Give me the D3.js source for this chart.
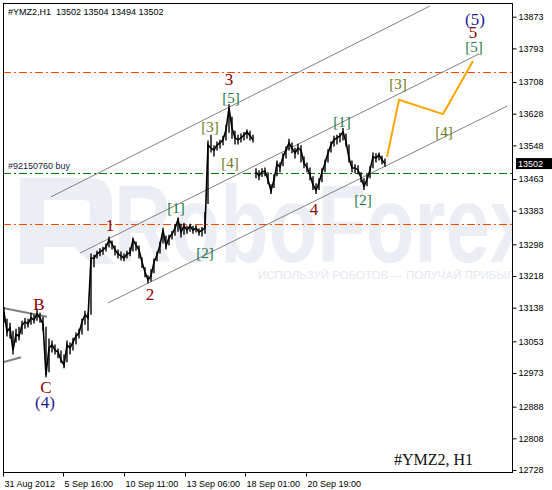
<!DOCTYPE html>
<html>
<head>
<meta charset="utf-8">
<script src="https://cdn.jsdelivr.net/npm/d3@7"></script>
<style>
  body { margin: 0; background: #fff; }
  svg { display: block; }
</style>
</head>
<body>
<svg id="chart" width="552" height="490"></svg>
<script>
// price per 3 hourly bars (bar = 1 + 3*i): close, high, low
const closes = [
  13127, 13077, 13087, 13031, 13071, 13066, 13094, 13102, 13097, 13112,
  13107, 13122, 13112, 13097, 12968, 13036, 13044, 13031, 13026, 13006,
  12993, 13044, 13036, 13051, 13066, 13074, 13102, 13120, 13112, 13263,
  13263, 13274, 13279, 13284, 13291, 13309, 13299, 13284, 13274, 13269,
  13263, 13274, 13276, 13309, 13296, 13284, 13253, 13228, 13208, 13218,
  13253, 13271, 13296, 13334, 13294, 13314, 13324, 13339, 13360, 13329,
  13344, 13334, 13344, 13334, 13339, 13329, 13334, 13339, 13549, 13541,
  13536, 13549, 13554, 13562, 13587, 13642, 13592, 13567, 13562, 13567,
  13574, 13582, 13572, 13562, 13481, 13471, 13481, 13483, 13461, 13433,
  13461, 13501, 13493, 13519, 13536, 13554, 13541, 13529, 13541, 13536,
  13503, 13493, 13473, 13448, 13435, 13453, 13481, 13503, 13529, 13549,
  13562, 13567, 13572, 13582, 13557, 13516, 13491, 13491, 13486, 13466,
  13445, 13461, 13486, 13519, 13516, 13524, 13511, 13502
];
const highs = [
  13140, 13110, 13100, 13080, 13085, 13090, 13105, 13112, 13110, 13125,
  13120, 13135, 13125, 13115, 13090, 13060, 13055, 13045, 13035, 13030,
  13020, 13055, 13050, 13062, 13075, 13085, 13110, 13130, 13125, 13275,
  13272, 13282, 13288, 13292, 13300, 13318, 13308, 13295, 13285, 13280,
  13275, 13282, 13290, 13315, 13305, 13295, 13265, 13240, 13220, 13235,
  13262, 13280, 13305, 13340, 13320, 13322, 13332, 13348, 13365, 13350,
  13352, 13345, 13350, 13345, 13346, 13338, 13342, 13380, 13560, 13575,
  13548, 13558, 13562, 13572, 13600, 13652, 13620, 13585, 13575, 13578,
  13582, 13588, 13585, 13575, 13490, 13485, 13490, 13492, 13480, 13450,
  13475, 13510, 13505, 13528, 13545, 13565, 13555, 13542, 13552, 13548,
  13520, 13505, 13492, 13470, 13452, 13465, 13490, 13512, 13538, 13558,
  13572, 13575, 13580, 13592, 13578, 13550, 13510, 13500, 13498, 13480,
  13465, 13475, 13495, 13530, 13528, 13530, 13522, 13515
];
const lows = [
  13100, 13065, 13060, 13020, 13050, 13055, 13070, 13085, 13088, 13095,
  13098, 13105, 13100, 13080, 12962, 12975, 13025, 13020, 13010, 12998,
  12985, 13000, 13020, 13030, 13045, 13060, 13070, 13095, 13080, 13120,
  13240, 13262, 13268, 13272, 13280, 13290, 13285, 13270, 13262, 13258,
  13255, 13262, 13268, 13280, 13282, 13262, 13238, 13215, 13200, 13205,
  13225, 13255, 13275, 13300, 13285, 13295, 13310, 13320, 13330, 13315,
  13322, 13325, 13330, 13325, 13328, 13320, 13318, 13325, 13400, 13530,
  13520, 13535, 13540, 13548, 13560, 13580, 13565, 13550, 13550, 13555,
  13560, 13565, 13560, 13555, 13465, 13460, 13468, 13470, 13450, 13425,
  13440, 13470, 13480, 13495, 13515, 13535, 13528, 13515, 13525, 13505,
  13490, 13480, 13460, 13435, 13425, 13435, 13455, 13480, 13505, 13530,
  13545, 13550, 13555, 13560, 13545, 13505, 13480, 13478, 13475, 13455,
  13435, 13445, 13465, 13490, 13505, 13510, 13500, 13494
];
// index of the group that opens after the weekend gap
const sessionBreaks = [84];
const priceTicks = [13873, 13793, 13708, 13628, 13548, 13463, 13383, 13298,
  13218, 13138, 13053, 12973, 12888, 12808, 12728];
const timeTicks = [0, 60, 121, 182, 242, 303];
const timeLabels = ["31 Aug 2012", "5 Sep 16:00", "10 Sep 11:00", "13 Sep 06:00",
  "18 Sep 01:00", "20 Sep 19:00"];
const lastPrice = 13502;
const levels = [
  { price: 13733, color: "#ff4500" },
  { price: 13477, color: "#008000", label: "#92150760 buy" },
  { price: 13349, color: "#ff4500" }
];
// channel lines as [bar, price] pairs
const channels = [
  [[48, 13418], [427, 13900]],
  [[77, 13276], [476, 13779]],
  [[105, 13150], [504, 13647]]
];
const triangle = [
  [[0, 13137], [44, 13115]],
  [[0, 13000], [18, 13013]]
];
const forecast = [[384, 13519], [396, 13663], [440, 13627], [470, 13761]];
// wave labels: text, bar, price, kind
const waves = [
  ["B", 36, 13133, "red"], ["C", 43, 12923, "red"], ["(4)", 42, 12885, "navy"],
  ["1", 107, 13332, "red"], ["2", 147, 13157, "red"],
  ["[1]", 173, 13377, "green"], ["[2]", 202, 13263, "green"],
  ["[3]", 207, 13582, "olive"], ["[4]", 227, 13491, "olive"], ["[5]", 228, 13655, "green"],
  ["3", 226, 13700, "red"], ["4", 311, 13372, "red"],
  ["[1]", 339, 13594, "green"], ["[2]", 360, 13397, "green"],
  ["[3]", 395, 13690, "olive"], ["[4]", 441, 13569, "olive"],
  ["[5]", 471, 13784, "green"], ["5", 470, 13819, "red"], ["(5)", 472, 13852, "navy"]
];
const waveColors = { red: "#8b0000", navy: "#1c1c8c", green: "#1f7a4a", olive: "#6f7a10" };

const svg = d3.select("#chart");
const pLeft = 3, pRight = 512, pTop = 3, pBottom = 472;

const x = d3.scaleLinear().domain([0, 509]).range([pLeft, pRight]);
const y = d3.scaleLinear().domain([12728, 13873]).range([470, 16.7]);

svg.append("clipPath").attr("id", "plotClip")
  .append("rect").attr("x", pLeft).attr("y", pTop).attr("width", pRight - pLeft).attr("height", pBottom - pTop);

// watermark
const wm = svg.append("g").attr("fill", "#ebeff5").attr("clip-path", "url(#plotClip)");
wm.append("path")
  .attr("d", "M20,178 H90 Q112,178 112,204 V222 Q112,240 95,245 L116,264 H92 L74,247 H44 V264 H20 Z M44,200 V226 H86 Q90,226 90,220 V206 Q90,200 84,200 Z")
  .attr("fill-rule", "evenodd");
wm.append("text").attr("x", 114).attr("y", 262)
  .attr("font-family", "Liberation Sans, Arial, sans-serif")
  .attr("font-size", 110).attr("font-weight", "bold")
  .attr("textLength", 420).attr("lengthAdjust", "spacingAndGlyphs")
  .text("RoboForex");
wm.append("text").attr("x", 258).attr("y", 279)
  .attr("font-family", "Liberation Sans, Arial, sans-serif")
  .attr("font-size", 11.5).attr("fill", "#e3e8ef")
  .text("ИСПОЛЬЗУЙ РОБОТОВ — ПОЛУЧАЙ ПРИБЫЛЬ");

const plot = svg.append("g");

// horizontal levels
levels.forEach(l => {
  plot.append("line")
    .attr("x1", pLeft).attr("x2", pRight)
    .attr("y1", Math.round(y(l.price)) + 0.5).attr("y2", Math.round(y(l.price)) + 0.5)
    .attr("stroke", l.color).attr("stroke-width", 1)
    .attr("stroke-dasharray", "8,3,2,3");
  if (l.label) {
    plot.append("text").attr("x", 8).attr("y", y(l.price) - 4)
      .attr("font-family", "Liberation Sans, Arial, sans-serif").attr("font-size", 9)
      .attr("fill", "#1a1a3a").text(l.label);
  }
});

// channels
channels.forEach(c => {
  plot.append("line")
    .attr("x1", x(c[0][0])).attr("y1", y(c[0][1]))
    .attr("x2", x(c[1][0])).attr("y2", y(c[1][1]))
    .attr("stroke", "#808080").attr("stroke-width", 1);
});
triangle.forEach(c => {
  plot.append("line")
    .attr("x1", x(c[0][0])).attr("y1", y(c[0][1]))
    .attr("x2", x(c[1][0])).attr("y2", y(c[1][1]))
    .attr("stroke", "#808080").attr("stroke-width", 2);
});

// price trace: high-low strokes plus close line, split at session gaps
const bars = closes.map((c, i) => ({ bar: 1 + 3 * i, close: c, high: highs[i], low: lows[i] }));
plot.selectAll(".hl").data(bars).enter().append("line")
  .attr("class", "hl")
  .attr("x1", d => x(d.bar)).attr("x2", d => x(d.bar))
  .attr("y1", d => y(d.high)).attr("y2", d => y(d.low))
  .attr("stroke", "#000").attr("stroke-width", 1.4);
const line = d3.line()
  .x(d => x(d.bar))
  .y(d => y(d.close));
const cuts = [0, ...sessionBreaks, bars.length];
for (let k = 0; k < cuts.length - 1; k++) {
  plot.append("path").datum(bars.slice(cuts[k], cuts[k + 1]))
    .attr("d", line)
    .attr("fill", "none").attr("stroke", "#000").attr("stroke-width", 1.6);
}

// forecast
plot.append("path").datum(forecast)
  .attr("d", d3.line().x(d => x(d[0])).y(d => y(d[1])))
  .attr("fill", "none").attr("stroke", "#ffa500").attr("stroke-width", 2);

// wave labels
plot.selectAll(".wave").data(waves).enter().append("text")
  .attr("class", "wave")
  .attr("x", d => x(d[1])).attr("y", d => y(d[2]))
  .attr("text-anchor", "middle")
  .attr("font-family", "Liberation Serif, Times New Roman, serif")
  .attr("font-size", d => d[3] === "red" || d[3] === "navy" ? 17 : 15)
  .attr("fill", d => waveColors[d[3]])
  .text(d => d[0]);

// frame
svg.append("rect")
  .attr("x", pLeft + 0.5).attr("y", pTop + 0.5)
  .attr("width", pRight - pLeft).attr("height", pBottom - pTop)
  .attr("fill", "none").attr("stroke", "#000");

// axes
const yAxis = d3.axisRight(y).tickValues(priceTicks).tickSize(4).tickFormat(d3.format("d"));
svg.append("g").attr("transform", `translate(${pRight + 0.5},0)`)
  .call(yAxis)
  .call(g => {
    g.select(".domain").remove();
    g.selectAll("text").attr("x", 6)
      .attr("font-family", "Liberation Sans, Arial, sans-serif").attr("font-size", 9).attr("fill", "#000");
  });

const xAxis = d3.axisBottom(x).tickValues(timeTicks).tickSize(4)
  .tickFormat((d, i) => timeLabels[i]);
svg.append("g").attr("transform", `translate(0,${pBottom + 0.5})`)
  .call(xAxis)
  .call(g => {
    g.select(".domain").remove();
    g.selectAll("text").attr("text-anchor", "start").attr("x", 1).attr("dy", "0.8em")
      .attr("font-family", "Liberation Sans, Arial, sans-serif").attr("font-size", 9).attr("fill", "#000");
  });

// last price marker
const ly = y(lastPrice);
svg.append("rect").attr("x", pRight + 4).attr("y", ly - 5.5).attr("width", 36).attr("height", 11).attr("fill", "#000");
svg.append("text").attr("x", pRight + 6).attr("y", ly + 3.5)
  .attr("font-family", "Liberation Sans, Arial, sans-serif").attr("font-size", 9).attr("fill", "#fff")
  .text(lastPrice);

// titles
svg.append("text").attr("x", 8).attr("y", 15)
  .attr("font-family", "Liberation Sans, Arial, sans-serif").attr("font-size", 9).attr("fill", "#000")
  .attr("xml:space", "preserve").style("white-space", "pre")
  .text("#YMZ2,H1  13502 13504 13494 13502");
svg.append("text").attr("x", 473).attr("y", 465).attr("text-anchor", "end")
  .attr("font-family", "Liberation Serif, Times New Roman, serif").attr("font-size", 16).attr("fill", "#111")
  .text("#YMZ2, H1");
</script>
</body>
</html>
